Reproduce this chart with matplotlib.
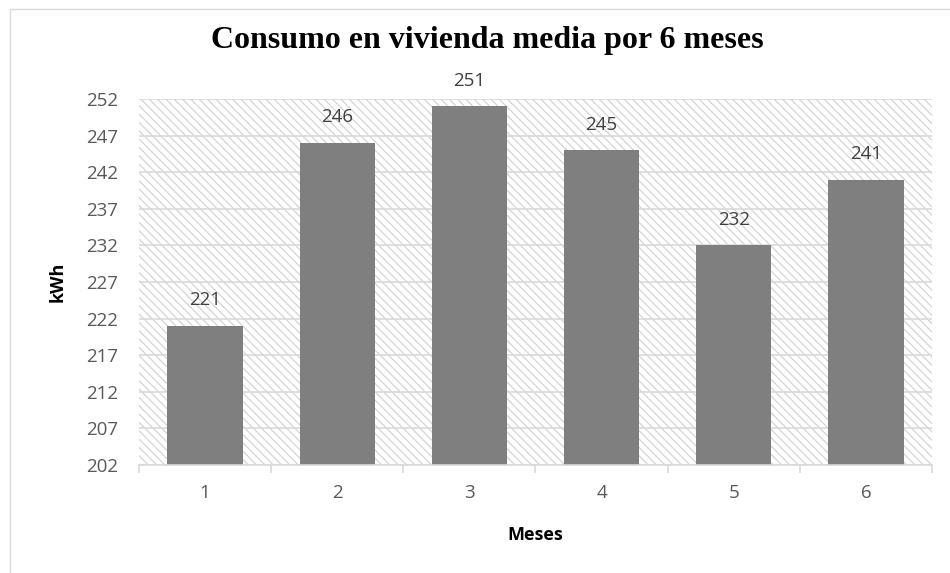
import matplotlib.pyplot as plt
from matplotlib.patches import Rectangle

meses = [1, 2, 3, 4, 5, 6]
consumo = [221, 246, 251, 245, 232, 241]
yticks = [202, 207, 212, 217, 222, 227, 232, 237, 242, 247, 252]

plt.rcParams["font.family"] = ["Open Sans", "DejaVu Sans"]
plt.rcParams["hatch.linewidth"] = 0.8
plt.rcParams["hatch.color"] = "#d0d0d0"

fig = plt.figure(figsize=(9.5, 5.73), dpi=100)
ax = fig.add_axes([0.1463, 0.1885, 0.8347, 0.6385])

# outer chart border
fig.patches.append(Rectangle((10 / 950, -0.1), 1.2, 1 - 9 / 573 + 0.1,
                             transform=fig.transFigure, fill=False,
                             edgecolor="#d9d9d9", linewidth=1))

# hatched plot area
ax.add_patch(Rectangle((0, 0), 1, 1, transform=ax.transAxes, facecolor="white",
                       edgecolor="#d0d0d0", hatch="\\" * 4, linewidth=0, zorder=0))

ax.set_ylim(202, 252)
ax.set_xlim(0.5, 6.5)
ax.set_yticks(yticks)
ax.grid(axis="y", color="#d9d9d9", linewidth=1.2, zorder=1)
ax.set_axisbelow(True)

bars = ax.bar(meses, consumo, width=0.57, color="#7f7f7f", zorder=2)
for x, v in zip(meses, consumo):
    ax.text(x, v + 3.5, str(v), ha="center", va="center", fontsize=13.5, color="#404040")

for s in ["top", "right", "left"]:
    ax.spines[s].set_visible(False)
ax.spines["bottom"].set_color("#d9d9d9")
ax.spines["bottom"].set_linewidth(1.2)

ax.set_xticks(meses)
ax.set_xticks([0.5 + i for i in range(7)], minor=True)
ax.tick_params(axis="x", which="major", length=0, pad=14, labelsize=13.5, labelcolor="#595959")
ax.tick_params(axis="x", which="minor", length=6, color="#d9d9d9", width=1.2)
ax.tick_params(axis="y", length=0, pad=15, labelsize=13.5, labelcolor="#595959")

ax.set_xlabel("Meses", fontsize=13, fontweight="bold")
ax.set_ylabel("kWh", fontsize=13, fontweight="bold")
ax.xaxis.set_label_coords(0.5, -0.191)
ax.yaxis.set_label_coords(-0.102, 0.5)
ax.xaxis.label.set_va("center")
ax.yaxis.label.set_va("center")

fig.text(0.513, 0.930, "Consumo en vivienda media por 6 meses", ha="center", va="center",
         fontsize=23, fontweight="bold", family=["Liberation Serif"])

fig.savefig("out.png", dpi=100)
